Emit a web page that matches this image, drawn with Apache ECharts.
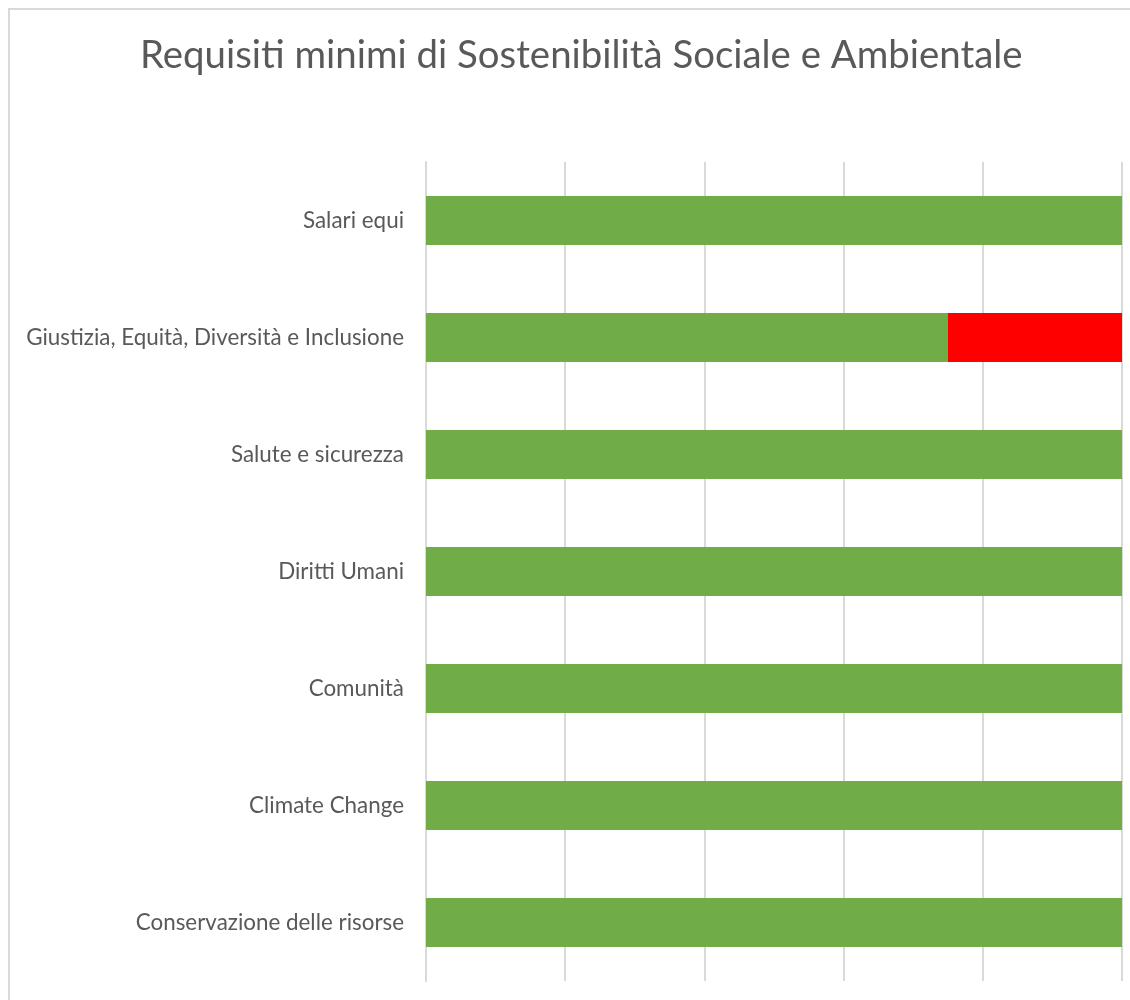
<!DOCTYPE html>
<html><head><meta charset="utf-8">
<script src="https://cdn.jsdelivr.net/npm/echarts@6/dist/echarts.min.js"></script>
<style>
html,body{margin:0;padding:0;background:#fff;}
#frame{position:absolute;left:8px;top:8px;width:1140px;height:1010px;border:2px solid #D9D9D9;box-sizing:border-box;}
#chart{position:absolute;left:0;top:0;width:1130px;height:1000px;}
</style></head>
<body>
<div id="frame"></div>
<div id="chart"></div>
<script>
const categories = ["Salari equi","Giustizia, Equità, Diversità e Inclusione","Salute e sicurezza","Diritti Umani","Comunità","Climate Change","Conservazione delle risorse"];
const metValues = [1, 0.75, 1, 1, 1, 1, 1];
const notMetValues = [0, 0.25, 0, 0, 0, 0, 0];
const titleText = "Requisiti minimi di Sostenibilità Sociale e Ambientale";

const chart = echarts.init(document.getElementById('chart'));
chart.setOption({
  backgroundColor: 'transparent',
  animation: false,
  title: {
    text: titleText,
    left: 135,
    top: 32,
    textStyle: {fontFamily: 'Lato', fontWeight: 'normal', fontSize: 38.4, color: '#595959'}
  },
  grid: {left: 426, right: 8, top: 162, bottom: 19, containLabel: false},
  xAxis: {
    type: 'value', min: 0, max: 1, interval: 0.2,
    axisLabel: {show: false}, axisLine: {show: false}, axisTick: {show: false},
    splitLine: {show: true, lineStyle: {color: '#D9D9D9', width: 2}}
  },
  yAxis: {
    type: 'category', data: categories, inverse: true,
    axisLine: {show: true, lineStyle: {color: '#D9D9D9', width: 2}},
    axisTick: {show: false},
    axisLabel: {fontFamily: 'Lato', fontSize: 22.4, color: '#595959', margin: 22}
  },
  series: [
    {name: 'Sì', type: 'bar', stack: 'a', data: metValues, barCategoryGap: '58%', itemStyle: {color: '#70AD47'}},
    {name: 'No', type: 'bar', stack: 'a', data: notMetValues, itemStyle: {color: '#FF0000'}}
  ]
});
</script>
</body></html>
